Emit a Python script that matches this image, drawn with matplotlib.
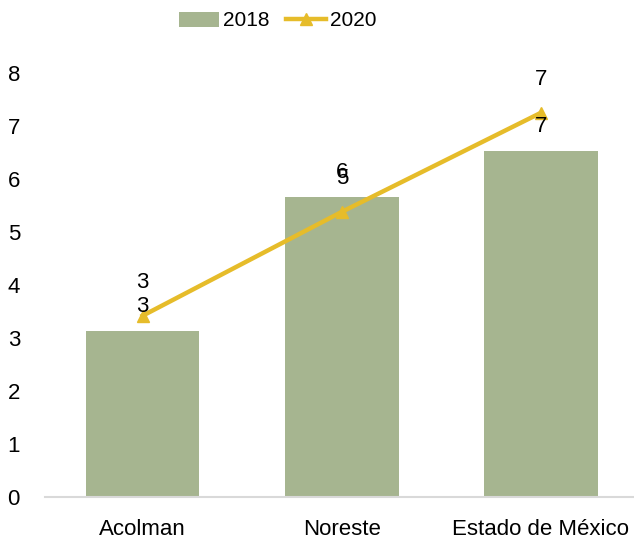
import matplotlib.pyplot as plt
import numpy as np

# Data
categories = ['Acolman', 'Noreste', 'Estado de México']
values_2018 = [3.13, 5.66, 6.52]
values_2020 = [3.42, 5.38, 7.25]
labels_2018 = ['3', '6', '7']
labels_2020 = ['3', '5', '7']

bar_color = '#A6B590'
line_color = '#E6BC2A'

plt.rcParams['font.family'] = ['Liberation Sans', 'DejaVu Sans']

fig = plt.figure(figsize=(6.34, 5.42), dpi=100)
ax = fig.add_axes([45 / 634, 45 / 542, 589 / 634, 424 / 542])

x = np.arange(len(categories))
bars = ax.bar(x, values_2018, width=0.57, color=bar_color, label='2018', zorder=2)
line, = ax.plot(x, values_2020, color=line_color, linewidth=3.2, marker='^',
                markersize=9, label='2020', zorder=3)

# data labels
for xi, v, lab in zip(x, values_2018, labels_2018):
    ax.annotate(lab, (xi, v), xytext=(0, 18), textcoords='offset points',
                ha='center', va='center', fontsize=16, zorder=4)
for xi, v, lab in zip(x, values_2020, labels_2020):
    ax.annotate(lab, (xi, v), xytext=(0, 24), textcoords='offset points',
                ha='center', va='center', fontsize=16, zorder=4)

ax.set_ylim(0, 8)
ax.set_xlim(-0.49, 2.467)
ax.set_xticks(x)
ax.set_xticklabels(categories)
ax.set_yticks(range(0, 9))
ax.tick_params(axis='both', length=0, labelsize=16)
ax.tick_params(axis='y', pad=18)
ax.tick_params(axis='x', pad=16)

for side in ['top', 'right', 'left']:
    ax.spines[side].set_visible(False)
ax.spines['bottom'].set_color('#D9D9D9')
ax.spines['bottom'].set_linewidth(1.5)

fig.legend(handles=[bars, line], labels=['2018', '2020'], loc='center',
           bbox_to_anchor=(278 / 634, 1 - 21 / 542), ncol=2, frameon=False,
           fontsize=15, handlelength=1.9, handletextpad=0.2, columnspacing=0.8)

fig.savefig('out.png', dpi=100)
